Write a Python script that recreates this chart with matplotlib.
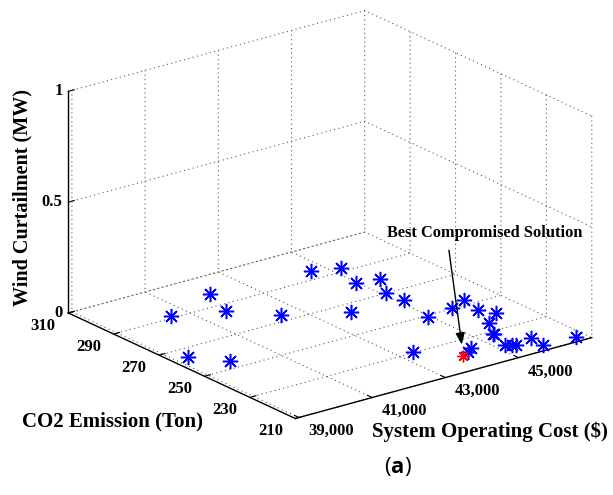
import numpy as np
import matplotlib
matplotlib.use("Agg")
import matplotlib.pyplot as plt
from mpl_toolkits.mplot3d import proj3d

# ---------------- data ----------------
cost = [44614, 45280, 44983, 45509, 45118, 45162, 42054, 41690, 40548, 42485,
        43814, 44957, 45682, 46182, 46070, 46243, 45758, 45437, 45450, 45235,
        45360, 45429, 45946, 45893, 46774, 44545, 44330, 43394, 39341, 39899]
co2 = [295.4, 292.6, 281.2, 279.4, 270.2, 262.9, 298.4, 285.6, 291.3, 274.0,
       264.6, 249.1, 250.1, 253.3, 244.9, 240.1, 235.2, 227.9, 228.4, 219.8,
       218.6, 217.9, 219.9, 213.6, 213.1, 223.7, 221.3, 230.8, 264.3, 255.0]
wind = [0.0] * len(cost)

best_cost = [44122]
best_co2 = [220.2]
best_wind = [0.0]

xticks = [39000, 41000, 43000, 45000]
xticklabels = ["39,000", "41,000", "43,000", "45,000"]
yticks = [210, 230, 250, 270, 290, 310]
yticklabels = ["210", "230", "250", "270", "290", "310"]
zticks = [0, 0.5, 1]
zticklabels = ["0", "0.5", "1"]

xlim = (38900, 47000)
ylim = (210, 310)
zlim = (0, 1)

# ---------------- style ----------------
plt.rcParams['font.family'] = ['Liberation Serif', 'DejaVu Serif']
plt.rcParams['font.weight'] = 'bold'
plt.rcParams['mathtext.fontset'] = 'custom'
plt.rcParams['mathtext.rm'] = 'Open Sans'
plt.rcParams['mathtext.bf'] = 'Open Sans:bold'
plt.rcParams['grid.linestyle'] = (0, (1, 3))
plt.rcParams['grid.color'] = '0.35'
plt.rcParams['grid.linewidth'] = 0.8

W, H = 613, 495
fig = plt.figure(figsize=(W / 100, H / 100), dpi=100)

S = 620.0
cx, cy = 330.0, 214.5
left_px = cx - 0.5135 * S
top_px = cy - 0.4865 * S
ax = fig.add_axes([left_px / W, 1 - (top_px + S) / H, S / W, S / H],
                  projection='3d', proj_type='ortho')
ax.view_init(elev=20.86, azim=232.55)
ax.set_box_aspect((1, 1, 0.635), zoom=562.0 / S)
ax.patch.set_alpha(0)

ax.plot(cost, co2, wind, linestyle='none', marker=(8, 2, 0), ms=11,
        mec='#0000ff', mew=1.1)
ax.plot(best_cost, best_co2, best_wind, linestyle='none', marker=(8, 2, 0),
        ms=8.5, mec='#ff0000', mew=1.0)

ax.set_xlim(*xlim)
ax.set_ylim(*ylim)
ax.set_zlim(*zlim)
ax.set_xticks(xticks)
ax.set_xticklabels(xticklabels, ha='left', va='center')
ax.set_yticks(yticks)
ax.set_yticklabels(yticklabels, ha='right', va='center')
ax.set_zticks(zticks)
ax.set_zticklabels(zticklabels, ha='right', va='center')

for axis in (ax.xaxis, ax.yaxis, ax.zaxis):
    axis.set_pane_color((1, 1, 1, 0))
    axis.line.set_color('black')
    axis.line.set_linewidth(1.0)
    axis._axinfo['tick']['inward_factor'] = 0.0
    axis._axinfo['tick']['outward_factor'] = 0.25
    axis._axinfo['tick']['color'] = 'black'
    axis._axinfo['grid']['color'] = '0.35'
    axis._axinfo['grid']['linestyle'] = (0, (1, 3))
    axis._axinfo['grid']['linewidth'] = 0.8
ax.tick_params(axis='x', labelsize=12, colors='black', pad=1.8)
ax.tick_params(axis='y', labelsize=12, colors='black', pad=1.8)
ax.tick_params(axis='z', labelsize=12, colors='black', pad=-5.5)

fig.canvas.draw()
x2, y2, _ = proj3d.proj_transform(best_cost[0], best_co2[0], best_wind[0], ax.get_proj())
ax.annotate("Best Compromised Solution", xy=(x2, y2), xycoords='data',
            xytext=(21.5, 123), textcoords='offset pixels',
            ha='center', va='center', fontsize=11.8, fontweight='bold',
            arrowprops=dict(arrowstyle='-|>,head_length=0.5,head_width=0.2',
                            color='black', lw=1.0, mutation_scale=14,
                            shrinkA=5, shrinkB=8, relpos=(0.31, 0.0)))

fig.text(490 / W, 1 - 432 / H, "System Operating Cost ($)", ha='center', va='center',
         fontsize=15, fontweight='bold')
fig.text(113 / W, 1 - 421 / H, "CO2 Emission (Ton)", ha='center', va='center',
         fontsize=15, fontweight='bold')
fig.text(22.5 / W, 1 - 197 / H, "Wind Curtailment (MW)", ha='center', va='center',
         rotation=90, fontsize=14.5, fontweight='bold')
fig.text(398 / W, 1 - 467 / H, r"($\mathbf{a}$)", ha='center', va='center',
         fontsize=16, fontweight='normal', family=['Open Sans', 'DejaVu Sans'])

fig.savefig("out.png", dpi=100)
